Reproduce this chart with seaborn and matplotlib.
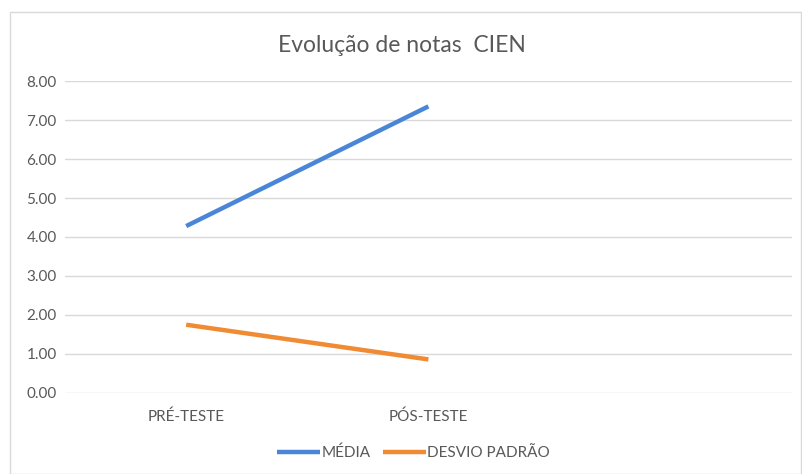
import matplotlib
matplotlib.use("Agg")
import matplotlib.pyplot as plt
import seaborn as sns
import pandas as pd
from matplotlib.patches import Rectangle

categories = ["PRÉ-TESTE", "PÓS-TESTE"]
media = [4.28, 7.35]
desvio = [1.75, 0.86]
series_names = ["MÉDIA", "DESVIO PADRÃO"]
yticks = [0, 1, 2, 3, 4, 5, 6, 7, 8]

df = pd.DataFrame({
    "cat": categories * 2,
    "val": media + desvio,
    "serie": [series_names[0]] * 2 + [series_names[1]] * 2,
})

sns.set_theme(style="white")
plt.rcParams['font.family'] = ['Lato', 'DejaVu Sans']
gray = "#595959"

fig = plt.figure(figsize=(8.03, 4.74), dpi=100)
fig.patches.append(Rectangle((0.012, 0.0), 0.985, 0.975, transform=fig.transFigure,
                             fill=False, edgecolor="#d9d9d9", lw=1.0))
ax = fig.add_axes([0.081, 0.171, 0.905, 0.658])

sns.lineplot(data=df, x="cat", y="val", hue="serie",
             palette=["#4a86d8", "#f08a33"], linewidth=3.2, ax=ax,
             legend=True, sort=False)
for ln in ax.lines:
    ln.set_solid_capstyle("butt")

ax.set_xlim(-0.5, 2.5)
ax.set_ylim(0, 8)
ax.set_yticks(yticks)
ax.set_yticklabels([f"{v:.2f}" for v in yticks], color=gray, fontsize=11)
ax.set_xticks([0, 1])
ax.set_xticklabels(categories, color=gray, fontsize=11)
ax.tick_params(axis="x", length=0, pad=12)
ax.tick_params(axis="y", length=0, pad=6)
ax.grid(axis="y", color="#d9d9d9", lw=1.0)
ax.set_axisbelow(True)
for s in ax.spines.values():
    s.set_visible(False)
ax.set_xlabel("")
ax.set_ylabel("")

handles, labels = ax.get_legend_handles_labels()
ax.get_legend().remove()
fig.legend(handles, labels, loc="center", bbox_to_anchor=(0.515, 0.045), ncol=2,
           frameon=False, fontsize=11, labelcolor=gray, handlelength=2.8,
           handletextpad=0.1, columnspacing=0.8)

fig.text(0.5, 0.905, "Evolução de notas  CIEN", ha="center", va="center",
         fontsize=16.5, color=gray)

fig.savefig("out.png", dpi=100)
